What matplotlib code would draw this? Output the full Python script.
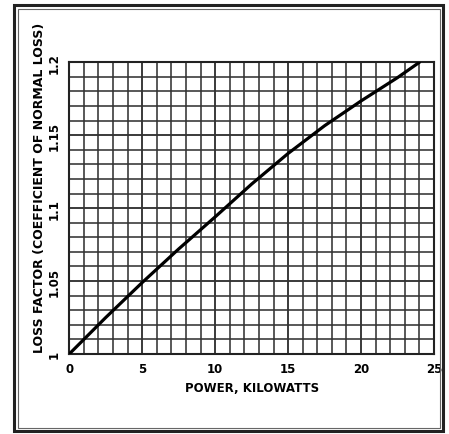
import numpy as np
import matplotlib
matplotlib.use("Agg")
import matplotlib.pyplot as plt
from matplotlib.patches import Rectangle

# loss factor vs. transmitter power
power_kw = [0, 2.5, 5, 7.5, 10, 12.5, 15, 17.5, 20, 22.5, 24]
loss_factor = [1.0, 1.025, 1.049, 1.072, 1.094, 1.1165, 1.1375, 1.1565, 1.1735, 1.1895, 1.200]

x_ticks = [0, 5, 10, 15, 20, 25]
y_ticks = [1.0, 1.05, 1.1, 1.15, 1.2]
y_tick_labels = ["1", "1.05", "1.1", "1.15", "1.2"]

plt.rcParams['font.family'] = ['DejaVu Sans']

fig = plt.figure(figsize=(4.49, 4.35), dpi=100)
ax = fig.add_axes([0.1543, 0.184, 0.8123, 0.6705])

# outer double frame around the figure
fig.patches.append(Rectangle((14 / 449, 1 - 432 / 435), 429 / 449, 426 / 435,
                             transform=fig.transFigure, fill=False,
                             edgecolor='#222222', linewidth=2.2))
fig.patches.append(Rectangle((18 / 449, 1 - 429 / 435), 422 / 449, 419 / 435,
                             transform=fig.transFigure, fill=False,
                             edgecolor='#666666', linewidth=0.8))

ax.set_xlim(0, 25)
ax.set_ylim(1.0, 1.2)

# graph-paper grid: 1 kW by 0.01
for xv in np.arange(0, 26, 1):
    ax.axvline(xv, color='#333333', lw=1.35 if xv % 5 == 0 else 1.15, zorder=1)
for yv in np.arange(1.0, 1.2001, 0.01):
    ax.axhline(yv, color='#333333', lw=1.35 if round(yv * 100) % 5 == 0 else 1.15, zorder=1)

ax.plot(power_kw, loss_factor, color='black', lw=2.3, zorder=3,
        solid_capstyle='round', solid_joinstyle='round')

for s in ax.spines.values():
    s.set_color('#222222')
    s.set_linewidth(1.5)

ax.set_xticks(x_ticks)
ax.set_xticklabels([str(t) for t in x_ticks], fontsize=8.5, fontweight='bold')
ax.set_yticks(y_ticks)
ax.set_yticklabels(y_tick_labels, fontsize=8.5, fontweight='bold',
                   rotation=90, va='center')
ax.tick_params(length=0, pad=6)

ax.set_xlabel("POWER, KILOWATTS", fontsize=8.5, fontweight='bold', labelpad=4)
fig.text(40 / 449, 1 - 188 / 435, "LOSS FACTOR (COEFFICIENT OF NORMAL LOSS)",
         fontsize=9, fontweight='bold', rotation=90, ha='center', va='center')

fig.savefig("out.png", dpi=100, facecolor='white')
